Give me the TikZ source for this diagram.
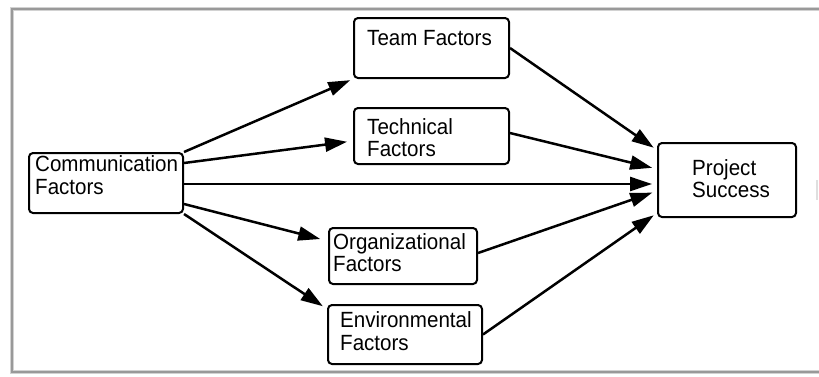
\documentclass[tikz,border=0pt]{standalone}
\usepackage{fontspec}
\setmainfont{Liberation Sans}[FakeStretch=0.935]
\usetikzlibrary{arrows.meta}
\begin{document}
\begin{tikzpicture}[x=1pt,y=-1pt,
  box/.style={draw=black, line width=2pt, rounded corners=4pt, inner sep=0pt, anchor=north west, fill=white},
  txt/.style={inner sep=0pt, anchor=north west, align=left, font=\fontsize{22pt}{22.5pt}\selectfont},
  conn/.style={line width=2.5pt, -{Triangle[length=22pt,width=14pt]}, shorten >=4pt}]
\useasboundingbox (0,0) rectangle (819,376);
\fill[white] (0,0) rectangle (819,376);
% frame
\draw[line width=3.5pt, gray!35] (819,9) -- (12,9) -- (12,372) -- (819,372);
\draw[line width=1.6pt, gray!80] (819,9) -- (12,9) -- (12,372) -- (819,372);
\draw[line width=1.2pt, gray!25] (817,180) -- (817,200);
% boxes
\node[box, minimum width=154pt, minimum height=60pt] (comm) at (28,152) {};
\node[box, minimum width=155pt, minimum height=60pt] (team) at (353,17) {};
\node[box, minimum width=155pt, minimum height=56pt] (tech) at (353,107) {};
\node[box, minimum width=138pt, minimum height=74pt] (proj) at (657,142) {};
\node[box, minimum width=148pt, minimum height=56pt] (org) at (328,227) {};
\node[box, minimum width=154pt, minimum height=59pt] (env) at (327,304) {};
% texts
\node[txt] (commT) at (35,155.5) {\rule{0pt}{16pt}Communication\\Factors};
\node[txt] (teamT) at (367,29) {\rule{0pt}{16pt}Team Factors};
\node[txt] (techT) at (367,118) {\rule{0pt}{16pt}Technical\\Factors};
\node[txt] (projT) at (692,159) {\rule{0pt}{16pt}Project\\Success};
\node[txt] (orgT) at (333,233) {\rule{0pt}{16pt}Organizational\\Factors};
\node[txt] (envT) at (340,311.5) {\rule{0pt}{16pt}Environmental\\Factors};
% connectors
\draw[conn, shorten >=3pt] (comm.north east) -- (team.south west);
\draw[conn, shorten >=6pt] ([yshift=20pt]comm.east) -- ([yshift=-5pt]tech.west);
\draw[conn, shorten >=5pt] ([yshift=-1pt]comm.east) -- ([yshift=-4pt]proj.west);
\draw[conn, shorten >=8pt] ([yshift=-21pt]comm.east) -- ([yshift=15pt]org.west);
\draw[conn, shorten >=5pt] (comm.south east) -- ([yshift=-5pt]env.north west);
\draw[conn] (team.east) -- ([yshift=-8pt]proj.north west);
\draw[conn, shorten >=5pt] ([yshift=3pt]tech.east) -- ([yshift=11pt]proj.west);
\draw[conn, shorten >=5pt] ([yshift=3pt]org.east) -- ([yshift=-11pt]proj.west);
\draw[conn] (env.east) -- ([yshift=5pt]proj.south west);
\end{tikzpicture}
\end{document}
